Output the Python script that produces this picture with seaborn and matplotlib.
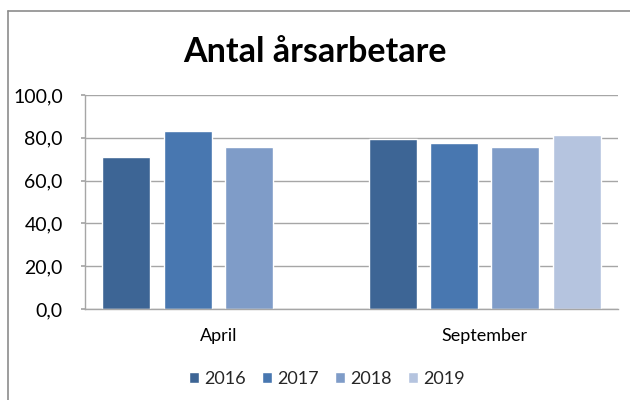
import matplotlib
matplotlib.use("Agg")
import matplotlib.pyplot as plt
from matplotlib.lines import Line2D
import seaborn as sns
import pandas as pd
import numpy as np
from matplotlib.ticker import FuncFormatter

categories = ["April", "September"]
years = ["2016", "2017", "2018", "2019"]
v2016 = [71.0, 79.3]
v2017 = [83.0, 77.4]
v2018 = [75.8, 75.9]
v2019 = [np.nan, 81.2]

rows = []
for yr, vals in zip(years, [v2016, v2017, v2018, v2019]):
    for c, v in zip(categories, vals):
        rows.append({"Månad": c, "År": yr, "Värde": v})
df = pd.DataFrame(rows)

colors = ["#3D6595", "#4877B0", "#7F9CC8", "#B5C4DF"]

sns.set_theme(style="white")
plt.rcParams['font.family'] = ['Lato', 'DejaVu Sans']

fig = plt.figure(figsize=(6.3, 4.0), dpi=100)
ax = fig.add_axes([85/630, 1-309/400, 533/630, 214/400])

sns.barplot(data=df, x="Månad", y="Värde", hue="År", hue_order=years,
            palette=colors, saturation=1, width=0.92, gap=0.22, ax=ax,
            edgecolor="white", linewidth=1.0, errorbar=None, legend=True)

ax.set_ylim(0, 100)
ax.set_yticks([0, 20, 40, 60, 80, 100])
ax.yaxis.set_major_formatter(FuncFormatter(lambda v, p: f"{v:.1f}".replace(".", ",")))
ax.grid(axis="y", color="#A6A6A6", linewidth=1.0)
ax.set_axisbelow(True)
for s in ["top", "right"]:
    ax.spines[s].set_visible(False)
for s in ["left", "bottom"]:
    ax.spines[s].set_color("#A6A6A6")
    ax.spines[s].set_linewidth(1.0)
ax.tick_params(axis="y", length=3, color="#A6A6A6", labelsize=14, pad=13, left=True)
ax.tick_params(axis="x", length=0, labelsize=13, pad=14)
ax.set_xlabel("")
ax.set_ylabel("")
for t in ax.get_xticklabels() + ax.get_yticklabels():
    t.set_color("#000000")

handles, labels = ax.get_legend_handles_labels()
ax.legend_.remove()
fig.legend(handles, labels, loc="center", bbox_to_anchor=(327/630, 1-379/400), ncol=4,
           frameon=False, fontsize=13, handlelength=0.55, handleheight=0.55,
           handletextpad=0.3, columnspacing=0.9)

fig.text(0.5, 1-52/400, "Antal årsarbetare", ha="center", va="center",
         fontsize=24.5, fontweight="bold", color="#000000")

fig.add_artist(Line2D([7.5/630, 1.0], [1-10.5/400, 1-10.5/400], transform=fig.transFigure,
                      color="#8C8C8C", linewidth=1.2))
fig.add_artist(Line2D([7.5/630, 7.5/630], [0.0, 1-10.5/400], transform=fig.transFigure,
                      color="#8C8C8C", linewidth=1.2))

fig.savefig("out.png", dpi=100)
